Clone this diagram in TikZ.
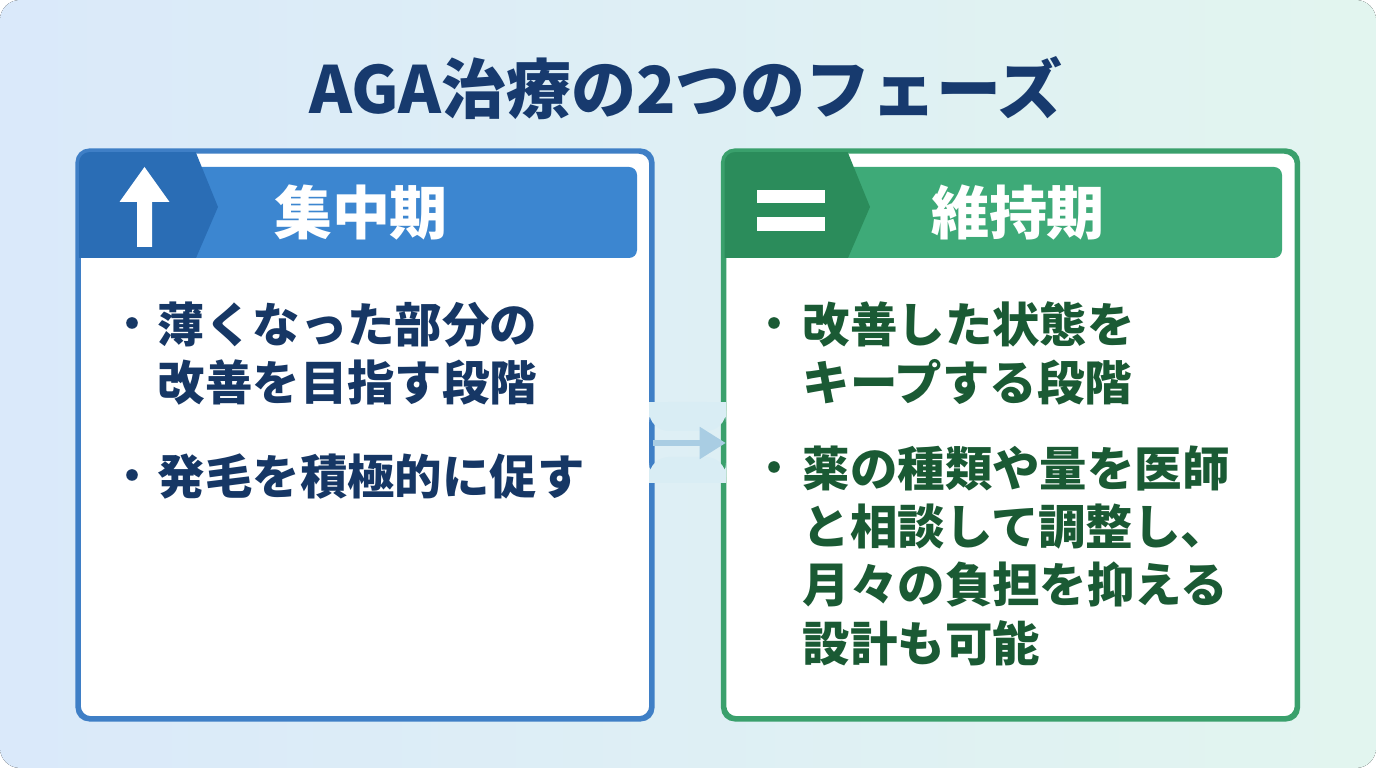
\documentclass[tikz,border=0pt]{standalone}
\usepackage{fontspec}
\setmainfont{Noto Sans CJK JP}
\usepackage{tikz}
\usepackage{xcolor}
\usetikzlibrary{arrows.meta, positioning, calc}
\definecolor{navy}  {RGB}{ 23, 58,110}
\definecolor{bnavy} {RGB}{ 22, 55,101}
\definecolor{dgrn}  {RGB}{ 26, 90, 52}
\definecolor{bbord} {RGB}{ 63,127,198}
\definecolor{bband} {RGB}{ 60,134,208}
\definecolor{bdark} {RGB}{ 42,109,181}
\definecolor{gbord} {RGB}{ 58,160,108}
\definecolor{gband} {RGB}{ 62,170,120}
\definecolor{gdark} {RGB}{ 43,140, 91}
\definecolor{bgL}   {RGB}{218,233,250}
\definecolor{bgR}   {RGB}{226,245,239}
\definecolor{bridge}{RGB}{217,237,244}
\definecolor{flow}  {RGB}{169,205,227}
\tikzset{
  % White phase panel
  PN/.style={rectangle,rounded corners=0.12cm,draw=#1,fill=white,
             minimum width=5.72cm,minimum height=5.66cm,inner sep=0pt,
             line width=1pt},
  % Panel outline redrawn over the band
  PO/.style={draw=#1,rounded corners=0.12cm,line width=1pt},
  % Header label
  HT/.style={text=white,font=\bfseries\fontsize{16.5}{20}\selectfont,
             inner sep=0pt},
  % Bullet text
  BT/.style={text=#1,font=\bfseries\fontsize{13.5}{16.6}\selectfont,
             align=left,anchor=north west,inner sep=0pt},
  % Bullet dot
  BD/.style={fill=#1},
  % Bridge arrow between panels
  Arr/.style={-{Triangle[length=0.26cm,width=0.31cm]},line width=1.5pt,
              color=flow},
}

\begin{document}
\begin{tikzpicture}
  \useasboundingbox (0,0) rectangle (13.76,7.68);
  \fill[white] (0,0) rectangle (13.76,7.68);
  \fill[left color=bgL,right color=bgR,rounded corners=0.2cm]
       (0,0) rectangle (13.76,7.68);

  \node[font=\bfseries\fontsize{18.5}{22}\selectfont,text=navy]
        at (6.86,6.80) (title) {AGA治療の2つのフェーズ};

  % left panel
  \node[PN=bbord] at (3.65,3.33) (lp) {};
  \begin{scope}
    \clip[rounded corners=0.12cm] (lp.south west) rectangle (lp.north east);
    \fill[bband,rounded corners=0.08cm] (1.80,5.10) rectangle (6.37,6.01);
    \fill[bdark] (0.70,5.10) -- (0.70,6.20) -- (1.94,6.20)
                 -- (2.18,5.61) -- (1.96,5.10) -- cycle;
  \end{scope}
  \draw[PO=bbord] (lp.south west) rectangle (lp.north east);
  \fill[white] (1.37,5.21) -- (1.52,5.21) -- (1.52,5.66) -- (1.695,5.66)
               -- (1.445,6.01) -- (1.195,5.66) -- (1.37,5.66) -- cycle;
  \node[HT] at (3.61,5.55) (lhd) {集中期};
  \node[BT=bnavy] at (1.57,4.67) (l1) {薄くなった部分の\\改善を目指す段階};
  \node[BT=bnavy] at (1.57,3.15) (l2) {発毛を積極的に促す};
  \fill[BD=bnavy] ($(l1.north west)+(-0.25,-0.22)$) circle (0.058);
  \fill[BD=bnavy] ($(l2.north west)+(-0.25,-0.22)$) circle (0.058);

  % right panel
  \node[PN=gbord] at (10.105,3.33) (rp) {};
  \begin{scope}
    \clip[rounded corners=0.12cm] (rp.south west) rectangle (rp.north east);
    \fill[gband,rounded corners=0.08cm] (8.30,5.10) rectangle (12.82,6.01);
    \fill[gdark] (7.15,5.10) -- (7.15,6.20) -- (8.46,6.20)
                 -- (8.70,5.61) -- (8.48,5.10) -- cycle;
  \end{scope}
  \draw[PO=gbord] (rp.south west) rectangle (rp.north east);
  \fill[white] (7.57,5.65) rectangle (8.25,5.78);
  \fill[white] (7.57,5.37) rectangle (8.25,5.51);
  \node[HT] at (10.18,5.55) (rhd) {維持期};
  \node[BT=dgrn] at (8.02,4.67) (r1) {改善した状態を\\キープする段階};
  \node[BT=dgrn] at (8.02,3.23) (r2)
        {薬の種類や量を医師\\と相談して調整し、\\月々の負担を抑える\\設計も可能};
  \fill[BD=dgrn] ($(r1.north west)+(-0.28,-0.22)$) circle (0.058);
  \fill[BD=dgrn] ($(r2.north west)+(-0.28,-0.22)$) circle (0.058);

  % bridge
  \fill[bridge,rounded corners=0.2cm] (6.49,3.37) rectangle (7.26,3.66);
  \fill[bridge,rounded corners=0.2cm] (6.49,2.85) rectangle (7.26,3.11);
  \fill[bridge] (6.49,3.52) rectangle (7.26,3.66);
  \fill[bridge] (6.49,2.85) rectangle (7.26,2.98);
  \draw[Arr] ($(lp.east)+(0,-0.08)$) -- ($(rp.west)+(0.03,-0.08)$);
\end{tikzpicture}
\end{document}
